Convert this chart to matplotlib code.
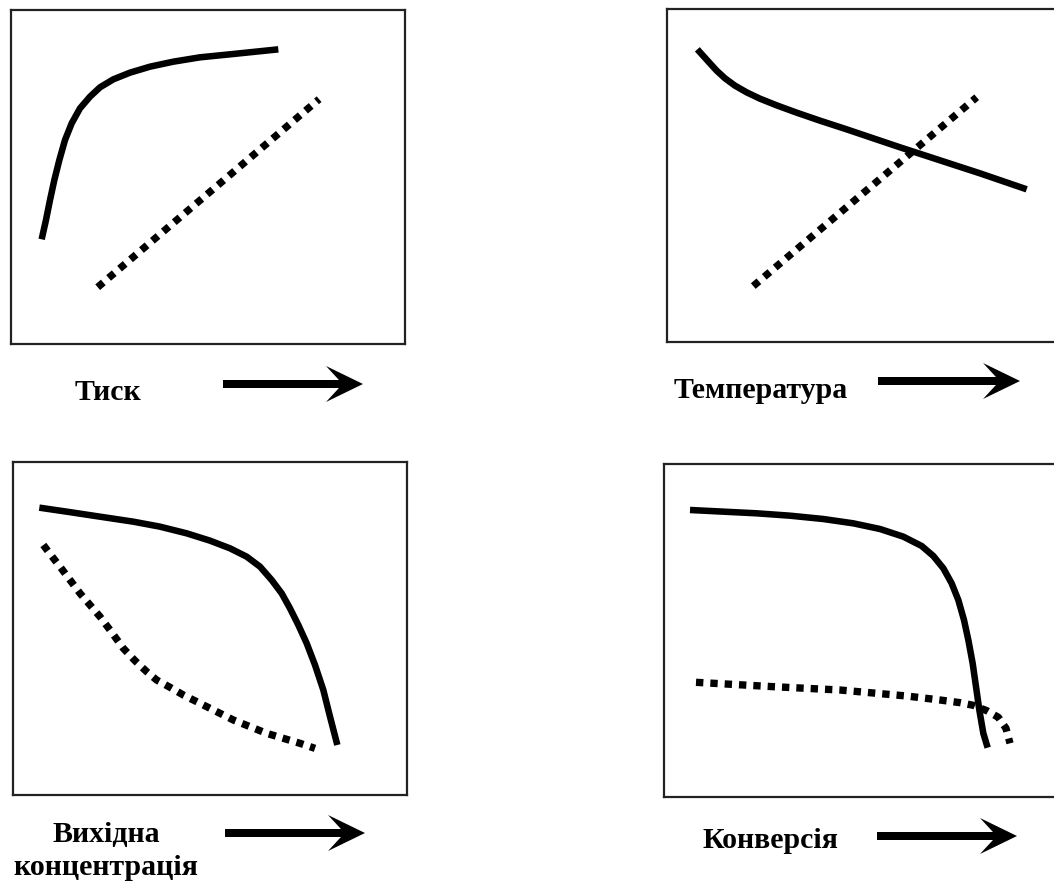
import matplotlib
matplotlib.use("Agg")
import matplotlib.pyplot as plt
from matplotlib.patches import FancyArrow

plt.rcParams['font.family'] = ['Liberation Serif', 'DejaVu Serif']

# curves, each panel on a 0..100 scale
p_solid_x = [7.78, 8.88, 9.90, 11.0, 12.27, 13.71, 15.40, 17.51, 20.05, 22.59,
             25.97, 30.20, 35.28, 41.20, 47.97, 56.43, 67.85]
p_solid_y = [31.34, 37.13, 43.11, 49.10, 55.09, 61.08, 66.07, 70.56, 74.05, 76.85,
             79.24, 81.24, 83.03, 84.53, 85.83, 86.83, 88.22]
p_dot_x = [22.0, 78.2]
p_dot_y = [17.0, 73.3]

t_solid_x = [7.70, 9.22, 10.91, 12.61, 14.72, 17.26, 20.22, 23.60, 27.83, 32.91,
             38.83, 45.60, 52.37, 59.14, 65.91, 72.67, 79.44, 85.36, 91.29]
t_solid_y = [87.89, 85.89, 83.68, 81.48, 79.18, 76.98, 74.97, 73.07, 71.07, 68.87,
             66.47, 63.86, 61.16, 58.46, 55.86, 53.25, 50.65, 48.25, 45.85]
t_dot_x = [21.9, 78.6]
t_dot_y = [16.8, 73.5]

c_solid_x = [6.68, 13.62, 22.08, 30.54, 37.31, 44.08, 50.0, 55.08, 59.31, 62.69,
             65.65, 68.19, 70.30, 72.42, 74.54, 76.65, 78.76, 80.46, 82.32]
c_solid_y = [86.29, 85.09, 83.58, 82.08, 80.58, 78.58, 76.38, 74.07, 71.57, 68.57,
             64.56, 60.56, 56.06, 51.05, 45.55, 39.04, 31.53, 23.52, 15.02]
c_dot_x = [7.70, 9.81, 11.93, 14.47, 17.01, 19.54, 22.08, 24.62, 28.00, 30.96, 33.93,
           36.46, 39.85, 43.23, 47.46, 51.69, 55.92, 60.15, 64.38, 68.61, 72.84, 76.65]
c_dot_y = [75.08, 71.77, 68.57, 64.56, 60.56, 57.06, 53.55, 49.55, 44.04, 40.34, 37.04,
           34.53, 32.33, 30.03, 27.53, 25.03, 22.52, 20.52, 18.52, 17.02, 15.52, 14.01]

k_solid_x = [6.60, 15.06, 23.52, 31.98, 40.44, 48.05, 54.82, 60.74, 65.40, 68.36,
             70.90, 73.01, 74.70, 76.14, 77.24, 78.34, 79.19, 80.03, 81.05, 82.15]
k_solid_y = [86.19, 85.69, 85.19, 84.48, 83.48, 82.18, 80.48, 78.18, 75.38, 72.37,
             68.67, 64.16, 59.16, 53.15, 47.15, 40.14, 33.13, 26.13, 19.12, 14.81]
k_dot_x = [8.12, 27.75, 44.67, 61.59, 70.05, 75.13, 78.51, 81.90, 84.86, 86.80, 87.82]
k_dot_y = [34.44, 33.13, 32.13, 30.33, 29.13, 28.33, 27.53, 25.93, 23.93, 20.62, 16.12]

W, H = 1054, 883
fig = plt.figure(figsize=(W / 100, H / 100), dpi=100)

# panel boxes in pixels: left, top, width, height
boxes = [(11, 10, 394, 334), (667, 9, 394, 333),
         (13, 462, 394, 333), (664, 464, 394, 333)]
curves = [(p_solid_x, p_solid_y, p_dot_x, p_dot_y),
          (t_solid_x, t_solid_y, t_dot_x, t_dot_y),
          (c_solid_x, c_solid_y, c_dot_x, c_dot_y),
          (k_solid_x, k_solid_y, k_dot_x, k_dot_y)]

for (l, t, w, h), (sx, sy, dx, dy) in zip(boxes, curves):
    ax = fig.add_axes([l / W, 1 - (t + h) / H, w / W, h / H])
    ax.plot(sx, sy, color='black', lw=4.7, solid_capstyle='butt',
            solid_joinstyle='round')
    ax.plot(dx, dy, color='black', lw=5.3, linestyle=(0, (1.0, 0.95)))
    ax.set_xlim(0, 100)
    ax.set_ylim(0, 100)
    ax.set_xticks([])
    ax.set_yticks([])
    for s in ax.spines.values():
        s.set_linewidth(1.6)
        s.set_color('#222222')

# overlay in pixel units for labels and arrows
ov = fig.add_axes([0, 0, 1, 1])
ov.set_xlim(0, W)
ov.set_ylim(H, 0)
ov.axis('off')

labels = [("Тиск", 108, 393), ("Температура", 761, 391),
          ("Вихідна\nконцентрація", 106, 851), ("Конверсія", 770, 840)]
for txt, x, y in labels:
    ov.text(x, y, txt, ha='center', va='center', fontsize=21.5,
            fontweight='bold', linespacing=1.3)

arrows = [(223, 384, 140), (878, 381, 142), (225, 833, 140), (877, 836, 140)]
for x, y, L in arrows:
    ov.add_patch(FancyArrow(x, y, L, 0, width=8, head_width=36,
                            head_length=37, overhang=0.35,
                            length_includes_head=True, color='black', lw=0))

fig.savefig("out.png", dpi=100)
